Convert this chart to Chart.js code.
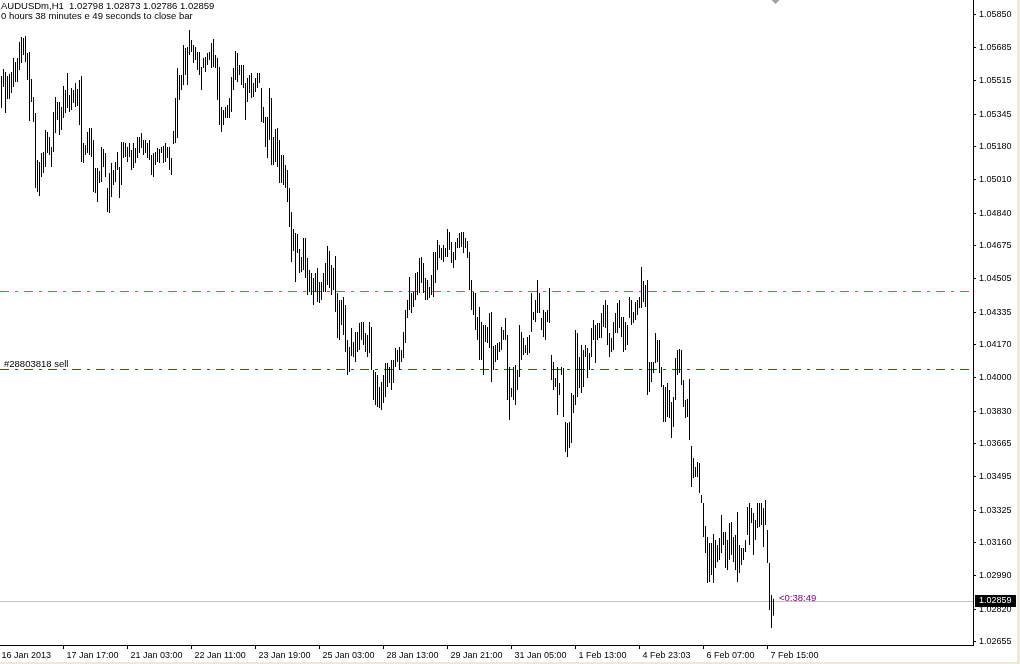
<!DOCTYPE html>
<html>
<head>
<meta charset="utf-8">
<script src="https://cdn.jsdelivr.net/npm/chart.js@4"></script>
<style>
  body { margin: 0; background: #fff; }
  #wrap { width: 1020px; height: 664px; }
</style>
</head>
<body>
<div id="wrap"><canvas id="chart" width="1020" height="664"></canvas></div>
<script>
// hourly AUDUSDm bars, high / low, oldest first
const barHigh = [
  1.05539, 1.05575, 1.05559, 1.05539, 1.05549, 1.05559, 1.05631, 1.05610, 1.05631, 1.05712,
  1.05738, 1.05733, 1.05743, 1.05656, 1.05661, 1.05524, 1.05432, 1.05350, 1.05110, 1.05100,
  1.05146, 1.05151, 1.05264, 1.05253, 1.05228, 1.05177, 1.05355, 1.05432, 1.05406, 1.05406,
  1.05381, 1.05488, 1.05468, 1.05554, 1.05442, 1.05478, 1.05468, 1.05503, 1.05473, 1.05519,
  1.05539, 1.05197, 1.05187, 1.05253, 1.05274, 1.05274, 1.05213, 1.05070, 1.05070, 1.05054,
  1.05177, 1.05167, 1.05146, 1.04968, 1.05044, 1.05095, 1.05060, 1.05100, 1.05151, 1.05075,
  1.05202, 1.05202, 1.05197, 1.05177, 1.05197, 1.05162, 1.05197, 1.05172, 1.05228, 1.05228,
  1.05248, 1.05213, 1.05213, 1.05197, 1.05213, 1.05136, 1.05146, 1.05151, 1.05172, 1.05167,
  1.05177, 1.05182, 1.05197, 1.05177, 1.05177, 1.05121, 1.05258, 1.05427, 1.05580, 1.05544,
  1.05544, 1.05697, 1.05682, 1.05687, 1.05774, 1.05723, 1.05697, 1.05687, 1.05661, 1.05661,
  1.05585, 1.05631, 1.05636, 1.05656, 1.05661, 1.05707, 1.05728, 1.05646, 1.05631, 1.05585,
  1.05381, 1.05366, 1.05381, 1.05391, 1.05427, 1.05534, 1.05580, 1.05666, 1.05656, 1.05595,
  1.05595, 1.05595, 1.05503, 1.05529, 1.05544, 1.05554, 1.05503, 1.05529, 1.05554, 1.05554,
  1.05478, 1.05381, 1.05330, 1.05330, 1.05478, 1.05427, 1.05228, 1.05269, 1.05274, 1.05213,
  1.05136, 1.05136, 1.05085, 1.05060, 1.04968, 1.04845, 1.04759, 1.04738, 1.04733, 1.04657,
  1.04616, 1.04713, 1.04713, 1.04611, 1.04550, 1.04534, 1.04509, 1.04534, 1.04560, 1.04488,
  1.04488, 1.04534, 1.04585, 1.04672, 1.04646, 1.04575, 1.04560, 1.04621, 1.04432, 1.04397,
  1.04397, 1.04412, 1.04371, 1.04193, 1.04157, 1.04254, 1.04182, 1.04233, 1.04233, 1.04279,
  1.04284, 1.04284, 1.04228, 1.04218, 1.04284, 1.04259, 1.04040, 1.04029, 1.04014, 1.03953,
  1.03978, 1.04014, 1.04075, 1.04075, 1.04055, 1.04091, 1.04091, 1.04152, 1.04142, 1.04157,
  1.04142, 1.04233, 1.04346, 1.04397, 1.04514, 1.04432, 1.04437, 1.04534, 1.04539, 1.04611,
  1.04616, 1.04585, 1.04509, 1.04499, 1.04463, 1.04524, 1.04641, 1.04641, 1.04703, 1.04677,
  1.04662, 1.04677, 1.04662, 1.04759, 1.04743, 1.04692, 1.04641, 1.04692, 1.04713, 1.04738,
  1.04743, 1.04743, 1.04713, 1.04697, 1.04641, 1.04499, 1.04437, 1.04432, 1.04310, 1.04361,
  1.04284, 1.04269, 1.04269, 1.04259, 1.04330, 1.04335, 1.04162, 1.04167, 1.04177, 1.04182,
  1.04259, 1.04244, 1.04305, 1.04218, 1.04055, 1.03948, 1.04055, 1.04065, 1.04040, 1.04269,
  1.04233, 1.04203, 1.04167, 1.04208, 1.04218, 1.04432, 1.04335, 1.04397, 1.04499, 1.04432,
  1.04305, 1.04346, 1.04335, 1.04346, 1.04458, 1.04116, 1.04080, 1.03999, 1.04055, 1.03973,
  1.04055, 1.04050, 1.03774, 1.03769, 1.03774, 1.03922, 1.03912, 1.04244, 1.04228, 1.04106,
  1.04167, 1.04142, 1.04167, 1.04152, 1.04126, 1.04254, 1.04295, 1.04269, 1.04279, 1.04279,
  1.04330, 1.04371, 1.04397, 1.04371, 1.04228, 1.04203, 1.04284, 1.04330, 1.04381, 1.04397,
  1.04310, 1.04310, 1.04284, 1.04269, 1.04412, 1.04397, 1.04335, 1.04386, 1.04397, 1.04412,
  1.04565, 1.04493, 1.04473, 1.04499, 1.04080, 1.04080, 1.04080, 1.04228, 1.04193, 1.04193,
  1.04055, 1.03963, 1.03953, 1.03973, 1.03938, 1.03876, 1.03902, 1.04101, 1.04142, 1.04147,
  1.04142, 1.03989, 1.03887, 1.03892, 1.03994, 1.03652, 1.03591, 1.03545, 1.03570, 1.03565,
  1.03402, 1.03361, 1.03244, 1.03188, 1.03157, 1.03157, 1.03203, 1.03173, 1.03147, 1.03183,
  1.03300, 1.03213, 1.03213, 1.03173, 1.03259, 1.03264, 1.03188, 1.03198, 1.03315, 1.03147,
  1.03132, 1.03132, 1.03173, 1.03341, 1.03361, 1.03336, 1.03310, 1.03275, 1.03361, 1.03361,
  1.03361, 1.03336, 1.03377, 1.03224, 1.03055, 1.02892, 1.02873
];
const barLow = [
  1.05376, 1.05483, 1.05350, 1.05422, 1.05422, 1.05452, 1.05483, 1.05508, 1.05508, 1.05570,
  1.05605, 1.05646, 1.05610, 1.05519, 1.05309, 1.05406, 1.05304, 1.04968, 1.04947, 1.04927,
  1.05024, 1.05044, 1.05075, 1.05146, 1.05136, 1.05075, 1.05151, 1.05248, 1.05315, 1.05238,
  1.05264, 1.05325, 1.05350, 1.05376, 1.05355, 1.05366, 1.05401, 1.05381, 1.05386, 1.05289,
  1.05100, 1.05095, 1.05136, 1.05146, 1.05136, 1.05126, 1.04947, 1.04942, 1.04896, 1.04993,
  1.04998, 1.05075, 1.05024, 1.04845, 1.04840, 1.04922, 1.04983, 1.04998, 1.05060, 1.04917,
  1.04983, 1.05121, 1.05126, 1.05100, 1.05126, 1.05060, 1.05070, 1.05095, 1.05121, 1.05146,
  1.05172, 1.05136, 1.05146, 1.05121, 1.05111, 1.05034, 1.05024, 1.05085, 1.05100, 1.05095,
  1.05146, 1.05095, 1.05100, 1.05121, 1.05060, 1.05034, 1.05192, 1.05197, 1.05223, 1.05417,
  1.05468, 1.05493, 1.05544, 1.05493, 1.05646, 1.05661, 1.05605, 1.05621, 1.05570, 1.05544,
  1.05468, 1.05580, 1.05559, 1.05595, 1.05621, 1.05580, 1.05585, 1.05580, 1.05417, 1.05289,
  1.05253, 1.05289, 1.05325, 1.05325, 1.05325, 1.05355, 1.05468, 1.05519, 1.05508, 1.05544,
  1.05493, 1.05478, 1.05315, 1.05406, 1.05452, 1.05427, 1.05432, 1.05457, 1.05478, 1.05503,
  1.05304, 1.05299, 1.05177, 1.05121, 1.05213, 1.05085, 1.05085, 1.05100, 1.05075, 1.04993,
  1.04993, 1.04983, 1.04968, 1.04896, 1.04769, 1.04590, 1.04646, 1.04488, 1.04636, 1.04534,
  1.04539, 1.04550, 1.04509, 1.04422, 1.04437, 1.04422, 1.04371, 1.04437, 1.04386, 1.04381,
  1.04397, 1.04437, 1.04437, 1.04473, 1.04458, 1.04422, 1.04448, 1.04335, 1.04203, 1.04193,
  1.04269, 1.04218, 1.04131, 1.04014, 1.04029, 1.04111, 1.04106, 1.04080, 1.04131, 1.04142,
  1.04193, 1.04167, 1.04131, 1.04106, 1.04126, 1.04040, 1.03887, 1.03861, 1.03851, 1.03846,
  1.03836, 1.03871, 1.03902, 1.03953, 1.03973, 1.03938, 1.03973, 1.04055, 1.04080, 1.04040,
  1.04080, 1.04101, 1.04177, 1.04305, 1.04346, 1.04330, 1.04361, 1.04397, 1.04422, 1.04432,
  1.04483, 1.04432, 1.04397, 1.04397, 1.04407, 1.04422, 1.04412, 1.04483, 1.04550, 1.04611,
  1.04601, 1.04590, 1.04616, 1.04616, 1.04652, 1.04585, 1.04560, 1.04601, 1.04662, 1.04662,
  1.04667, 1.04636, 1.04662, 1.04611, 1.04448, 1.04346, 1.04320, 1.04244, 1.04193, 1.04091,
  1.04091, 1.04014, 1.04182, 1.04177, 1.04152, 1.03978, 1.04040, 1.04080, 1.04091, 1.04131,
  1.04142, 1.04193, 1.04193, 1.03887, 1.03785, 1.03902, 1.03887, 1.03861, 1.03938, 1.04004,
  1.04091, 1.04116, 1.04126, 1.04116, 1.04126, 1.04233, 1.04295, 1.04284, 1.04330, 1.04330,
  1.04244, 1.04208, 1.04193, 1.04284, 1.04279, 1.03989, 1.03938, 1.03953, 1.03810, 1.03912,
  1.04014, 1.03800, 1.03621, 1.03596, 1.03642, 1.03667, 1.03820, 1.03861, 1.03902, 1.03948,
  1.03922, 1.03953, 1.04106, 1.03999, 1.04040, 1.04106, 1.04193, 1.04075, 1.04193, 1.04203,
  1.04203, 1.04259, 1.04254, 1.04167, 1.04106, 1.04131, 1.04142, 1.04228, 1.04228, 1.04254,
  1.04208, 1.04131, 1.04142, 1.04167, 1.04305, 1.04269, 1.04279, 1.04295, 1.04320, 1.04356,
  1.04356, 1.04386, 1.04361, 1.03912, 1.03927, 1.03978, 1.04024, 1.04075, 1.04080, 1.04024,
  1.03953, 1.03774, 1.03774, 1.03800, 1.03795, 1.03693, 1.03749, 1.03887, 1.04014, 1.04024,
  1.03963, 1.03851, 1.03795, 1.03800, 1.03683, 1.03443, 1.03489, 1.03494, 1.03494, 1.03412,
  1.03361, 1.03188, 1.03106, 1.02953, 1.02958, 1.02994, 1.02953, 1.03030, 1.03060, 1.03071,
  1.03106, 1.03147, 1.03030, 1.03020, 1.03071, 1.03096, 1.03060, 1.03020, 1.02958, 1.03004,
  1.03045, 1.03071, 1.03111, 1.03198, 1.03147, 1.03259, 1.03096, 1.03173, 1.03234, 1.03239,
  1.03249, 1.03137, 1.03249, 1.03055, 1.02816, 1.02724, 1.02786
];

const priceTicks = [
  1.05850, 1.05685, 1.05515, 1.05345, 1.05180, 1.05010, 1.04840, 1.04675, 1.04505, 1.04335,
  1.04170, 1.04000, 1.03830, 1.03665, 1.03495, 1.03325, 1.03160, 1.02990, 1.02820, 1.02655
];
// bar index of each time label
const timeTickBars = [-1.5, 31, 63, 95, 127, 159, 191, 223, 255, 287, 319, 351, 383];
const timeTickLabels = [
  "16 Jan 2013", "17 Jan 17:00", "21 Jan 03:00", "22 Jan 11:00", "23 Jan 19:00",
  "25 Jan 03:00", "28 Jan 13:00", "29 Jan 21:00", "31 Jan 05:00", "1 Feb 13:00",
  "4 Feb 23:03", "6 Feb 07:00", "7 Feb 15:00"
];

const stopLevel = 1.04442;
const sellLevel = 1.04045;
const bidPrice = 1.02859;
const headerLine1 = "AUDUSDm,H1  1.02798 1.02873 1.02786 1.02859";
const headerLine2 = "0 hours 38 minutes e 49 seconds to close bar";
const orderLabel = "#28803818 sell";
const timerLabel = "<0:38:49";

const FAMILY = '"Liberation Sans", Arial, sans-serif';
const FONT = "9.5px " + FAMILY;

const bars = barHigh.map((h, i) => ({ x: i, y: [barLow[i], h] }));

const overlay = {
  id: "overlay",
  beforeDraw(chart) {
    const ctx = chart.ctx;
    ctx.save();
    ctx.fillStyle = "#fff";
    ctx.fillRect(0, 0, chart.width, chart.height);
    ctx.restore();
  },
  beforeDatasetsDraw(chart) {
    const { ctx, chartArea: a, scales } = chart;
    const hline = (price, color, dash) => {
      const py = Math.round(scales.y.getPixelForValue(price)) + 0.5;
      ctx.save();
      ctx.strokeStyle = color;
      ctx.lineWidth = 1;
      ctx.setLineDash(dash);
      ctx.beginPath();
      ctx.moveTo(a.left, py);
      ctx.lineTo(a.right, py);
      ctx.stroke();
      ctx.restore();
    };
    hline(bidPrice, "#c0c0c0", []);
    hline(stopLevel, "#f0501e", [9, 6, 3, 6]);
    hline(sellLevel, "#0a780a", [9, 6, 3, 6]);
  },
  afterDraw(chart) {
    const { ctx, chartArea: a, scales } = chart;
    const bidY = Math.round(scales.y.getPixelForValue(bidPrice));
    const sellY = Math.round(scales.y.getPixelForValue(sellLevel));
    ctx.save();
    ctx.font = FONT;
    ctx.textBaseline = "middle";
    ctx.textAlign = "left";

    ctx.fillStyle = "#000";
    ctx.fillText(headerLine1, 1, 6);
    ctx.fillText(headerLine2, 1, 16);
    ctx.fillText(orderLabel, 4, sellY - 5);

    // timer next to the last bar
    ctx.fillStyle = "#800080";
    ctx.fillText(timerLabel, 779, bidY - 3);

    // bid price box on the price axis
    ctx.font = "9px " + FAMILY;
    ctx.fillStyle = "#000";
    ctx.fillRect(a.right + 2, bidY - 6, 41, 12);
    ctx.fillStyle = "#fff";
    ctx.fillText(bidPrice.toFixed(5), a.right + 6, bidY);

    // chart shift marker
    const sx = scales.x.getPixelForValue(barHigh.length);
    ctx.fillStyle = "#a0a0a0";
    ctx.beginPath();
    ctx.moveTo(sx - 4, 0);
    ctx.lineTo(sx + 4, 0);
    ctx.lineTo(sx, 4);
    ctx.closePath();
    ctx.fill();

    // window frame
    ctx.fillStyle = "#ece9d8";
    ctx.fillRect(1017, 0, 3, chart.height);
    ctx.fillRect(0, 662, chart.width, 2);
    ctx.restore();
  }
};

new Chart(document.getElementById("chart"), {
  type: "bar",
  data: {
    datasets: [
      {
        data: bars,
        backgroundColor: "#000",
        borderWidth: 0,
        barThickness: 1,
        inflateAmount: 0,
      },
    ],
  },
  options: {
    responsive: false,
    animation: false,
    devicePixelRatio: 1,
    layout: { padding: 0 },
    plugins: {
      legend: { display: false },
      tooltip: { enabled: false },
    },
    scales: {
      x: {
        type: "linear",
        offset: false,
        min: -0.75,
        max: 485.75,
        afterBuildTicks: (s) => {
          s.ticks = timeTickBars.map((v) => ({ value: v }));
        },
        afterFit: (s) => {
          s.height = 19;
          s.paddingLeft = 0;
          s.paddingRight = 0;
        },
        grid: { drawOnChartArea: false, offset: false, color: "#000", tickLength: 4 },
        border: { color: "#000" },
        ticks: {
          autoSkip: false,
          maxRotation: 0,
          minRotation: 0,
          align: "start",
          labelOffset: 3,
          padding: 1,
          color: "#000",
          font: { family: FAMILY, size: 9 },
          callback: (v, i) => timeTickLabels[i],
        },
      },
      y: {
        type: "linear",
        position: "right",
        min: 1.02637,
        max: 1.059265,
        afterBuildTicks: (s) => {
          s.ticks = priceTicks.map((v) => ({ value: v }));
        },
        afterFit: (s) => {
          s.width = 47;
          s.paddingTop = 0;
          s.paddingBottom = 0;
        },
        grid: { drawOnChartArea: false, color: "#000", tickLength: 3 },
        border: { color: "#000" },
        ticks: {
          autoSkip: false,
          padding: 3,
          color: "#000",
          font: { family: FAMILY, size: 9 },
          callback: (v) => v.toFixed(5),
        },
      },
    },
  },
  plugins: [overlay],
});
</script>
</body>
</html>
